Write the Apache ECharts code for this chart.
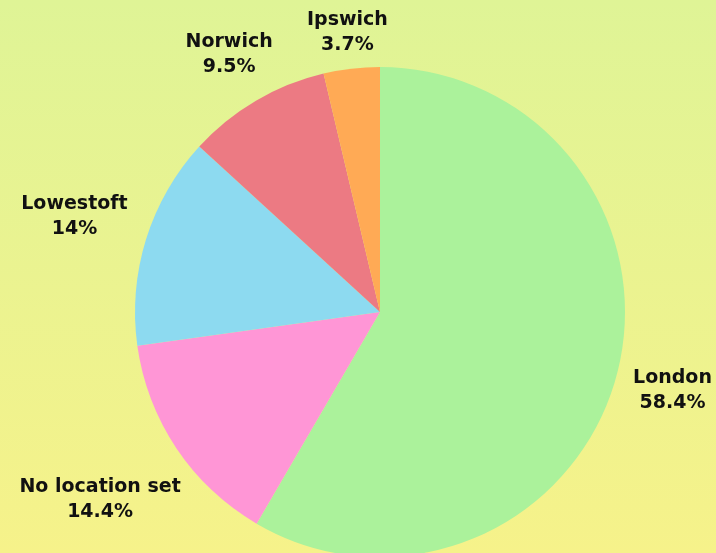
<!DOCTYPE html>
<html>
<head>
<meta charset="utf-8">
<script src="https://cdn.jsdelivr.net/npm/echarts@6/dist/echarts.min.js"></script>
<style>
	html, body { margin: 0; padding: 0; }
	#echart { width: 716px; height: 553px; }
</style>
</head>
<body>
<div id="echart"></div>
<script>
/*
	地点分布饼图
	@id: 生成的元素
	@options: 传入的内容
*/
function getPieChart(id, options) {

	var myEchart = echarts.init(document.getElementById(id));
	var data = [];

	for (var i = 0; i < options.data.length; i++) {
		data.push({
			name: options.data[i].name,
			value: options.data[i].value,
			itemStyle: {
				color: options.data[i].color
			},
			// 标签离圆心的距离
			labelLine: {
				show: false,
				length: options.data[i].gap,
				length2: 0
			}
		});
	}

	var option = {
		backgroundColor: {
			type: 'linear',
			x: 0, y: 0, x2: 0, y2: 1,
			colorStops: [
				{ offset: 0, color: '#dff496' },
				{ offset: 1, color: '#f6f28a' }
			]
		},
		animation: false,
		series: [
			{
				type: 'pie',
				center: [380, 312],
				radius: 245,
				startAngle: 90,
				clockwise: true,
				avoidLabelOverlap: false,
				label: {
					show: true,
					position: 'outside',
					distanceToLabelLine: 0,
					formatter: '{b}\n{d}%',
					color: '#111',
					fontFamily: 'DejaVu Sans',
					fontWeight: 'bold',
					fontSize: 19,
					lineHeight: 25,
					overflow: 'none'
				},
				labelLayout: function () {
					return { align: 'center' };
				},
				emphasis: { disabled: true },
				data: data
			}
		]
	};

	myEchart.setOption(option);
}

getPieChart('echart', {
	data: [
		{ name: 'London', value: 58.4, color: '#abf29b', gap: 58 },
		{ name: 'No location set', value: 14.4, color: '#ff96d6', gap: 92 },
		{ name: 'Lowestoft', value: 14, color: '#8ddaf0', gap: 75 },
		{ name: 'Norwich', value: 9.5, color: '#ec7a83', gap: 53 },
		{ name: 'Ipswich', value: 3.7, color: '#ffaa55', gap: 36 }
	]
});
</script>
</body>
</html>
